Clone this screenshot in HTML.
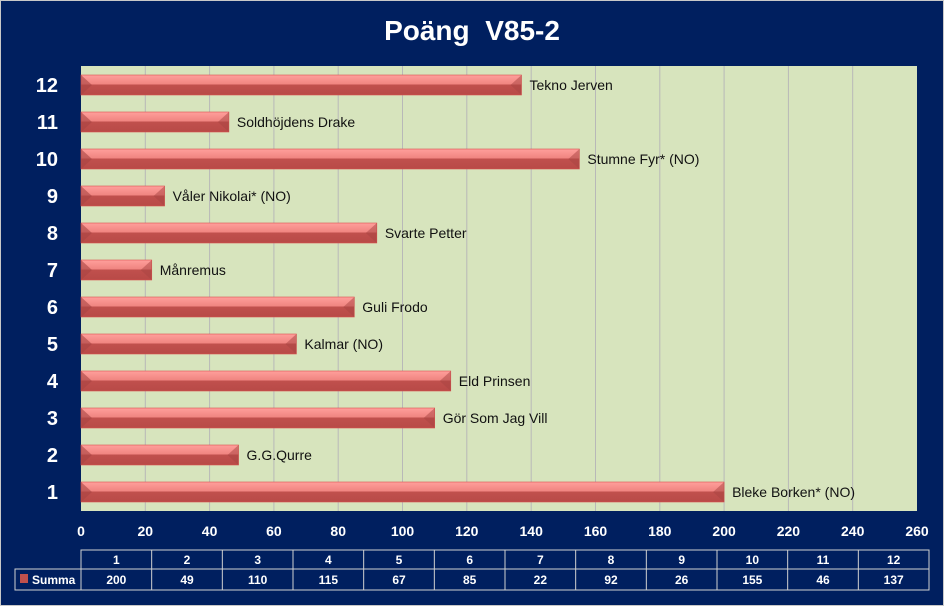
<!DOCTYPE html>
<html><head><meta charset="utf-8"><style>
html,body{margin:0;padding:0;background:#001f5f;}
svg{display:block;}
text{font-family:"Liberation Sans","DejaVu Sans",sans-serif;}
</style></head><body>
<svg width="944" height="606" xmlns="http://www.w3.org/2000/svg">
<defs>
<linearGradient id="g" x1="0" y1="0" x2="0" y2="1">
<stop offset="0" stop-color="#ff9f9b"/><stop offset="0.45" stop-color="#f08580"/><stop offset="0.5" stop-color="#c0504d"/><stop offset="1" stop-color="#b84a47"/>
</linearGradient>
</defs>
<rect x="0" y="0" width="944" height="606" fill="#001f5f"/>
<rect x="0.5" y="0.5" width="943" height="605" fill="none" stroke="#c8c8c8"/>
<text x="472" y="40" text-anchor="middle" fill="#fff" font-size="28" font-weight="bold" xml:space="preserve">Poäng  V85-2</text>
<rect x="81" y="66" width="836" height="445" fill="#d7e4bd"/>
<g stroke="#b8b8b8" stroke-width="1">
<line x1="145.3" y1="66" x2="145.3" y2="511"/><line x1="209.6" y1="66" x2="209.6" y2="511"/><line x1="273.9" y1="66" x2="273.9" y2="511"/><line x1="338.2" y1="66" x2="338.2" y2="511"/><line x1="402.5" y1="66" x2="402.5" y2="511"/><line x1="466.8" y1="66" x2="466.8" y2="511"/><line x1="531.2" y1="66" x2="531.2" y2="511"/><line x1="595.5" y1="66" x2="595.5" y2="511"/><line x1="659.8" y1="66" x2="659.8" y2="511"/><line x1="724.1" y1="66" x2="724.1" y2="511"/><line x1="788.4" y1="66" x2="788.4" y2="511"/><line x1="852.7" y1="66" x2="852.7" y2="511"/>
</g>
<g id="bars"></g>
<g fill="#fff" font-size="14" font-weight="bold" text-anchor="middle">
<text x="81" y="536">0</text><text x="145.3" y="536">20</text><text x="209.6" y="536">40</text><text x="273.9" y="536">60</text><text x="338.2" y="536">80</text><text x="402.5" y="536">100</text><text x="466.8" y="536">120</text><text x="531.2" y="536">140</text><text x="595.5" y="536">160</text><text x="659.8" y="536">180</text><text x="724.1" y="536">200</text><text x="788.4" y="536">220</text><text x="852.7" y="536">240</text><text x="917" y="536">260</text>
</g>
<g id="tbl"></g>
<script>
var vals=[200,49,110,115,67,85,22,92,26,155,46,137];
var names=["Bleke Borken* (NO)","G.G.Qurre","Gör Som Jag Vill","Eld Prinsen","Kalmar (NO)","Guli Frodo","Månremus","Svarte Petter","Våler Nikolai* (NO)","Stumne Fyr* (NO)","Soldhöjdens Drake","Tekno Jerven"];
var NS="http://www.w3.org/2000/svg";
function el(t,a,p,txt){var e=document.createElementNS(NS,t);for(var k in a)e.setAttribute(k,a[k]);if(txt!=null)e.textContent=txt;p.appendChild(e);return e;}
var b=document.getElementById("bars");
for(var i=0;i<12;i++){
 var cy=492-37*i, w=vals[i]*836/260, x2=81+w;
 el("rect",{x:81,y:cy-10,width:w,height:20,fill:"url(#g)",stroke:"#d9534f","stroke-width":0.6},b);
 el("polygon",{points:"81,"+(cy-10)+" 92,"+cy+" 81,"+(cy+10),fill:"#a84442",opacity:0.6},b);
 el("polygon",{points:x2+","+(cy-10)+" "+(x2-11)+","+cy+" "+x2+","+(cy+10),fill:"#a84442",opacity:0.5},b);
 el("text",{x:x2+8,y:cy+5,"font-size":14,fill:"#111"},b,names[i]);
 el("text",{x:58,y:cy+7,"font-size":20,"font-weight":"bold",fill:"#fff","text-anchor":"end"},b,String(i+1));
}
var t=document.getElementById("tbl");
var cw=(929-81)/12;
el("rect",{x:81,y:550,width:848,height:40,fill:"none",stroke:"#d0d0d0"},t);
el("rect",{x:15,y:569,width:66,height:21,fill:"none",stroke:"#d0d0d0"},t);
el("line",{x1:81,y1:569,x2:929,y2:569,stroke:"#d0d0d0"},t);
for(var j=1;j<12;j++)el("line",{x1:81+cw*j,y1:550,x2:81+cw*j,y2:590,stroke:"#d0d0d0"},t);
for(var j=0;j<12;j++){
 el("text",{x:81+cw*(j+0.5),y:564,"font-size":12,"font-weight":"bold",fill:"#fff","text-anchor":"middle"},t,String(j+1));
 el("text",{x:81+cw*(j+0.5),y:584,"font-size":12,"font-weight":"bold",fill:"#fff","text-anchor":"middle"},t,String(vals[j]));
}
el("rect",{x:20,y:574,width:8,height:9,fill:"#c0504d"},t);
el("text",{x:32,y:584,"font-size":12,"font-weight":"bold",fill:"#fff"},t,"Summa");
</script>
</svg>
</body></html>
